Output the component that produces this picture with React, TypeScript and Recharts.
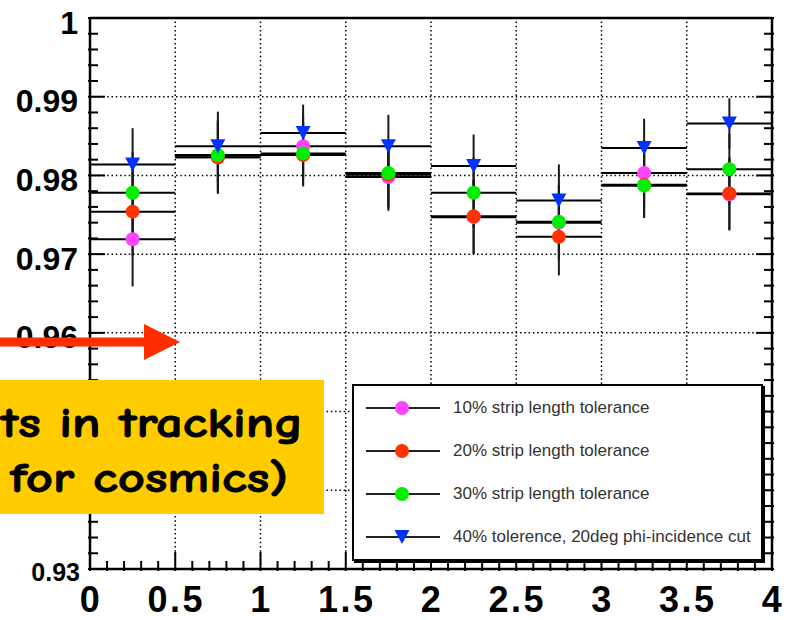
import { ScatterChart, Scatter, XAxis, YAxis, ErrorBar, ReferenceLine, Legend } from "recharts"

// bin centres (x) and half bin width
const binCenters = [0.25, 0.75, 1.25, 1.75, 2.25, 2.75, 3.25, 3.75]
const binHalfWidth = [0.25, 0.25, 0.25, 0.25, 0.25, 0.25, 0.25, 0.25]

// efficiencies and their errors
const eff10 = [0.9719, 0.9823, 0.9837, 0.9798, 0.9747, 0.974, 0.9803, 0.9776]
const err10 = [0.006, 0.0046, 0.004, 0.0043, 0.0047, 0.0047, 0.0042, 0.0046]
const eff20 = [0.9754, 0.9823, 0.9826, 0.9801, 0.9748, 0.9722, 0.9788, 0.9777]
const err20 = [0.0056, 0.0046, 0.004, 0.0043, 0.0047, 0.0049, 0.0041, 0.0046]
const eff30 = [0.9778, 0.9826, 0.9828, 0.9803, 0.9778, 0.9741, 0.9787, 0.9808]
const err30 = [0.0052, 0.0045, 0.004, 0.0043, 0.0045, 0.0047, 0.0041, 0.0045]
const eff40 = [0.9814, 0.9837, 0.9854, 0.9837, 0.9812, 0.9768, 0.9835, 0.9866]
const err40 = [0.0046, 0.0044, 0.0036, 0.004, 0.004, 0.0046, 0.0037, 0.0032]

const seriesNames = [
    "10% strip length tolerance",
    "20% strip length tolerance",
    "30% strip length tolerance",
    "40% tolerence, 20deg phi-incidence cut",
]

// axis ticks
const xMajorTicks = [0, 0.5, 1, 1.5, 2, 2.5, 3, 3.5, 4]
const xTickLabels = ["0", "0.5", "1", "1.5", "2", "2.5", "3", "3.5", "4"]
const yMajorTicks = [0.93, 0.94, 0.95, 0.96, 0.97, 0.98, 0.99, 1]
const yTickLabels = ["0.93", "0.94", "0.95", "0.96", "0.97", "0.98", "0.99", "1"]
const xGridLines = [0.5, 1, 1.5, 2, 2.5, 3, 3.5]
const yGridLines = [0.94, 0.95, 0.96, 0.97, 0.98, 0.99]

const xMinorStep = 0.1
const yMinorStep = 0.002

const xAllTicks = Array.from({ length: 41 }, (_, i) => Math.round(i * xMinorStep * 1000) / 1000)
const yAllTicks = Array.from({ length: 36 }, (_, i) => Math.round((0.93 + i * yMinorStep) * 10000) / 10000)

const toPoints = (vals: number[], errs: number[]) =>
    binCenters.map((x, i) => ({ x, y: vals[i], ex: binHalfWidth[i], ey: errs[i] }))

const series = [
    { name: seriesNames[0], color: "#ff44ff", marker: "circle", data: toPoints(eff10, err10) },
    { name: seriesNames[1], color: "#ff3300", marker: "circle", data: toPoints(eff20, err20) },
    { name: seriesNames[2], color: "#00ee00", marker: "circle", data: toPoints(eff30, err30) },
    { name: seriesNames[3], color: "#0033ff", marker: "triangle", data: toPoints(eff40, err40) },
]

const FONT = "'Liberation Sans', Arial, Helvetica, sans-serif"
const COMIC = "'Comic Sans MS', 'Comic Neue', 'DejaVu Sans', sans-serif"
const MAJOR_LEN = 19
const MINOR_LEN = 10

const near = (a: number, b: number) => Math.abs(a - b) < 1e-6

function Marker({ cx, cy, color, kind }: { cx: number; cy: number; color: string; kind: string }) {
    if (kind === "triangle") {
        return <polygon points={`${cx - 7.5},${cy - 7} ${cx + 7.5},${cy - 7} ${cx},${cy + 7}`} fill={color} />
    }
    return <circle cx={cx} cy={cy} r={7} fill={color} />
}

const BottomTick = (props: any) => {
    const { x, y, payload } = props
    const idx = xMajorTicks.findIndex((t) => near(t, payload.value))
    const major = idx >= 0
    return (
        <g>
            <line x1={x} y1={y} x2={x} y2={y - (major ? MAJOR_LEN : MINOR_LEN)} stroke="#000" strokeWidth={2} />
            {major && (
                <text
                    x={x + 1}
                    y={y + 41}
                    textAnchor="middle"
                    fontSize={36}
                    fontWeight="bold"
                    letterSpacing={2.5}
                    fontFamily={FONT}
                    fill="#000"
                >
                    {xTickLabels[idx]}
                </text>
            )}
        </g>
    )
}

const TopTick = (props: any) => {
    const { x, y, payload } = props
    const major = xMajorTicks.some((t) => near(t, payload.value))
    return <line x1={x} y1={y} x2={x} y2={y + (major ? MAJOR_LEN + 2 : MINOR_LEN + 1)} stroke="#000" strokeWidth={2} />
}

const LeftTick = (props: any) => {
    const { x, y, payload } = props
    const idx = yMajorTicks.findIndex((t) => near(t, payload.value))
    const major = idx >= 0
    const bottom = idx === 0
    return (
        <g>
            <line x1={x} y1={y} x2={x + (major ? MAJOR_LEN - 2 : MINOR_LEN)} y2={y} stroke="#000" strokeWidth={2} />
            {major && (
                <text
                    x={bottom ? x - 8 : x - 10}
                    y={bottom ? y + 12 : y + 15.5}
                    textAnchor="end"
                    fontSize={bottom ? 25 : 32}
                    fontWeight="bold"
                    fontFamily={FONT}
                    fill="#000"
                >
                    {yTickLabels[idx]}
                </text>
            )}
        </g>
    )
}

const RightTick = (props: any) => {
    const { x, y, payload } = props
    const major = yMajorTicks.some((t) => near(t, payload.value))
    return <line x1={x} y1={y} x2={x - (major ? MAJOR_LEN - 1 : MINOR_LEN)} y2={y} stroke="#000" strokeWidth={2} />
}

const LegendBox = (props: any) => {
    const { payload } = props
    return (
        <div
            style={{
                width: 411,
                height: 177,
                boxSizing: "border-box",
                background: "#fff",
                border: "2px solid #000",
                boxShadow: "2px 2px 0 #000",
                display: "flex",
                flexDirection: "column",
            }}
        >
            {(payload || []).map((entry: any) => {
                const s = series.find((d) => d.name === entry.value)
                if (!s) return null
                return (
                    <div key={s.name} style={{ flex: 1, display: "flex", alignItems: "center" }}>
                        <svg width={95} height={20} style={{ flexShrink: 0 }}>
                            <line x1={12} y1={10} x2={86} y2={10} stroke="#222" strokeWidth={2} />
                            <Marker cx={48} cy={10} color={s.color} kind={s.marker} />
                        </svg>
                        <span style={{ marginLeft: 4, fontSize: 17, color: "#333", fontFamily: FONT, whiteSpace: "nowrap" }}>
                            {s.name}
                        </span>
                    </div>
                )
            })}
        </div>
    )
}

export default function App() {
    return (
        <div style={{ position: "absolute", left: 0, top: 0, width: 791, height: 620, background: "#fff", overflow: "hidden" }}>
            <ScatterChart width={791} height={620} margin={{ top: 17, right: 18, bottom: 50, left: 89 }}>
                {xGridLines.map((v) => (
                    <ReferenceLine key={`gx${v}`} x={v} stroke="#000" strokeWidth={1.5} strokeDasharray="1.5 2.8" />
                ))}
                {yGridLines.map((v) => (
                    <ReferenceLine key={`gy${v}`} y={v} stroke="#000" strokeWidth={1.5} strokeDasharray="1.5 2.8" />
                ))}
                {series.map((s) => (
                    <Scatter
                        key={s.name}
                        name={s.name}
                        data={s.data}
                        fill={s.color}
                        isAnimationActive={false}
                        shape={(p: any) => <Marker cx={p.cx} cy={p.cy} color={s.color} kind={s.marker} />}
                    >
                        <ErrorBar dataKey="ex" direction="x" width={0} stroke="#000" strokeWidth={2} />
                        <ErrorBar dataKey="ey" direction="y" width={0} stroke="#1a1a1a" strokeWidth={2} />
                    </Scatter>
                ))}
                <XAxis
                    xAxisId={0}
                    type="number"
                    dataKey="x"
                    domain={[0, 4]}
                    allowDataOverflow
                    ticks={xAllTicks}
                    interval={0}
                    height={1}
                    tickSize={0}
                    tickLine={false}
                    axisLine={{ stroke: "#000", strokeWidth: 2.5 }}
                    tick={<BottomTick />}
                />
                <XAxis
                    xAxisId="top"
                    orientation="top"
                    type="number"
                    domain={[0, 4]}
                    allowDataOverflow
                    ticks={xAllTicks}
                    interval={0}
                    height={1}
                    tickSize={0}
                    tickLine={false}
                    axisLine={{ stroke: "#000", strokeWidth: 2.5 }}
                    tick={<TopTick />}
                />
                <YAxis
                    yAxisId={0}
                    type="number"
                    dataKey="y"
                    domain={[0.93, 1]}
                    allowDataOverflow
                    ticks={yAllTicks}
                    interval={0}
                    width={1}
                    tickSize={0}
                    tickLine={false}
                    axisLine={{ stroke: "#000", strokeWidth: 2.5 }}
                    tick={<LeftTick />}
                />
                <YAxis
                    yAxisId="right"
                    orientation="right"
                    type="number"
                    domain={[0.93, 1]}
                    allowDataOverflow
                    ticks={yAllTicks}
                    interval={0}
                    width={1}
                    tickSize={0}
                    tickLine={false}
                    axisLine={{ stroke: "#000", strokeWidth: 2.5 }}
                    tick={<RightTick />}
                />
                <Legend
                    layout="vertical"
                    align="center"
                    verticalAlign="middle"
                    content={<LegendBox />}
                    wrapperStyle={{ left: 352, top: 384, width: 411, height: 177 }}
                />
            </ScatterChart>
            {/* slide annotation over the plot */}
            <svg width={791} height={620} style={{ position: "absolute", left: 0, top: 0, pointerEvents: "none" }}>
                <rect x={0} y={337.5} width={146} height={9} fill="#ff2d00" />
                <polygon points="144,324 180,342 144,360" fill="#ff2d00" />
                <rect x={0} y={380} width={324} height={134} fill="#ffcc00" />
                <text
                    x={1}
                    y={437}
                    fontSize={42}
                    fontWeight="bold"
                    fontFamily={COMIC}
                    textLength={302}
                    lengthAdjust="spacingAndGlyphs"
                    fill="#000"
                    stroke="#000"
                    strokeWidth={0.8}
                >
                    ts in tracking
                </text>
                <text
                    x={10}
                    y={492}
                    fontSize={42}
                    fontWeight="bold"
                    fontFamily={COMIC}
                    textLength={278}
                    lengthAdjust="spacingAndGlyphs"
                    fill="#000"
                    stroke="#000"
                    strokeWidth={0.8}
                >
                    for cosmics)
                </text>
            </svg>
        </div>
    )
}
